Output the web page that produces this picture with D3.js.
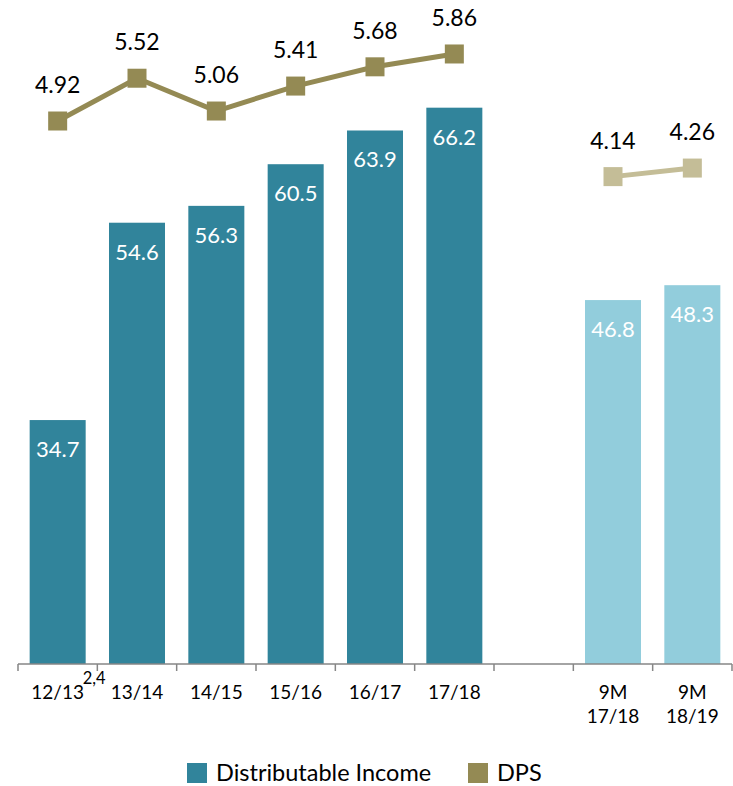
<!DOCTYPE html>
<html><head><meta charset="utf-8">
<script src="https://cdn.jsdelivr.net/npm/d3@7"></script>
<style>body{margin:0;background:#fff;} text{font-family:Lato,"Open Sans",sans-serif;}</style>
</head><body>
<svg id="c" width="733" height="786"></svg>
<script>
const categories = ["12/13", "13/14", "14/15", "15/16", "16/17", "17/18", "", "9M 17/18", "9M 18/19"];
const labelLines = [["12/13"], ["13/14"], ["14/15"], ["15/16"], ["16/17"], ["17/18"], [], ["9M", "17/18"], ["9M", "18/19"]];
const incomeCats = ["12/13", "13/14", "14/15", "15/16", "16/17", "17/18"];
const incomeVals = [34.7, 54.6, 56.3, 60.5, 63.9, 66.2];
const incomeCats9M = ["9M 17/18", "9M 18/19"];
const incomeVals9M = [46.8, 48.3];
const dpsVals = [4.92, 5.52, 5.06, 5.41, 5.68, 5.86];
const dpsVals9M = [4.14, 4.26];
const legendItems = ["Distributable Income", "DPS"];

const C_BAR = "#31849B", C_BAR_L = "#92CDDC", C_DPS = "#948A54", C_DPS_L = "#C4BD97";

const svg = d3.select("#c");
const x = d3.scaleBand().domain(categories).range([18, 732]).paddingInner(0.294).paddingOuter(0.147);
const y = d3.scaleLinear().domain([10, 70]).range([665, 70]);
const y2 = d3.scaleLinear().domain([4, 6]).range([186.6, 44]);
const baseY = 664;

function bars(cats, vals, color) {
  const data = cats.map((c, i) => ({c, v: vals[i]}));
  svg.selectAll(null).data(data).enter().append("rect")
    .attr("x", d => x(d.c)).attr("width", x.bandwidth())
    .attr("y", d => y(d.v)).attr("height", d => baseY - y(d.v))
    .attr("fill", color);
  svg.selectAll(null).data(data).enter().append("text")
    .attr("x", d => x(d.c) + x.bandwidth() / 2).attr("y", d => y(d.v) + 37)
    .attr("text-anchor", "middle").attr("fill", "#fff").attr("font-size", 22)
    .text(d => d.v.toFixed(1));
}
bars(incomeCats, incomeVals, C_BAR);
bars(incomeCats9M, incomeVals9M, C_BAR_L);

function dps(cats, vals, color) {
  const data = cats.map((c, i) => ({c, v: vals[i]}));
  const cx = d => x(d.c) + x.bandwidth() / 2;
  svg.append("path").datum(data)
    .attr("d", d3.line().x(cx).y(d => y2(d.v)))
    .attr("fill", "none").attr("stroke", color).attr("stroke-width", 5);
  svg.selectAll(null).data(data).enter().append("rect")
    .attr("x", d => cx(d) - 9.5).attr("y", d => y2(d.v) - 9.5)
    .attr("width", 19).attr("height", 19).attr("fill", color);
  svg.selectAll(null).data(data).enter().append("text")
    .attr("x", cx).attr("y", d => y2(d.v) - 28)
    .attr("text-anchor", "middle").attr("fill", "#000").attr("font-size", 23)
    .text(d => d.v.toFixed(2));
}
dps(incomeCats, dpsVals, C_DPS);
dps(incomeCats9M, dpsVals9M, C_DPS_L);

// axis
const step = x.step();
const x0 = 18;
svg.append("line").attr("x1", x0).attr("x2", 732).attr("y1", baseY).attr("y2", baseY)
  .attr("stroke", "#868686").attr("stroke-width", 1.5);
for (let i = 0; i <= categories.length; i++) {
  const tx = x0 + i * step;
  svg.append("line").attr("x1", tx).attr("x2", tx).attr("y1", baseY).attr("y2", baseY + 7)
    .attr("stroke", "#868686").attr("stroke-width", 1.5);
}
categories.forEach((c, i) => {
  const cx = x(c) + x.bandwidth() / 2;
  const t = svg.append("text").attr("x", cx).attr("y", 699).attr("text-anchor", "middle")
    .attr("font-size", 19).attr("fill", "#000");
  labelLines[i].forEach((ln, j) => {
    t.append("tspan").attr("x", cx).attr("dy", j === 0 ? 0 : 24).text(ln);
  });
  if (i === 0) {
    svg.append("text").attr("x", cx + 25).attr("y", 684).attr("font-size", 16.5).attr("fill", "#000").text("2,4");
  }
});

// legend
const lg = [{t: legendItems[0], c: C_BAR, x: 187}, {t: legendItems[1], c: C_DPS, x: 468}];
lg.forEach(d => {
  svg.append("rect").attr("x", d.x).attr("y", 763).attr("width", 20).attr("height", 20).attr("fill", d.c);
  svg.append("text").attr("x", d.x + 29).attr("y", 781).attr("font-size", 23.5).attr("fill", "#000").text(d.t);
});
</script>
</body></html>
